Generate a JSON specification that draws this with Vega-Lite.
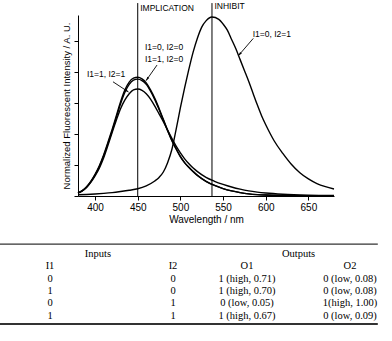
{
  "$schema": "https://vega.github.io/schema/vega-lite/v6.json",
  "width": 392,
  "height": 341,
  "autosize": {"type": "none"},
  "padding": 0,
  "background": "white",
  "config": {
    "font": "Liberation Sans",
    "view": {"stroke": null},
    "axis": {
      "domainColor": "black",
      "tickColor": "black",
      "labelColor": "black",
      "titleColor": "black",
      "labelFont": "Liberation Sans",
      "titleFont": "Liberation Sans",
      "titleFontWeight": "normal",
      "labelFontSize": 10,
      "titleFontSize": 10,
      "grid": false,
      "domainWidth": 1,
      "tickWidth": 1
    }
  },
  "datasets": {
    "curves": [
      {"s": "I1=0, I2=1", "wl": 380, "v": 0.08}, {"s": "I1=0, I2=1", "wl": 390, "v": 0.1}, {"s": "I1=0, I2=1", "wl": 400, "v": 0.13}, {"s": "I1=0, I2=1", "wl": 410, "v": 0.17}, {"s": "I1=0, I2=1", "wl": 420, "v": 0.22}, {"s": "I1=0, I2=1", "wl": 430, "v": 0.29}, {"s": "I1=0, I2=1", "wl": 440, "v": 0.37}, {"s": "I1=0, I2=1", "wl": 450, "v": 0.47}, {"s": "I1=0, I2=1", "wl": 460, "v": 0.66}, {"s": "I1=0, I2=1", "wl": 470, "v": 0.97}, {"s": "I1=0, I2=1", "wl": 475, "v": 1.2}, {"s": "I1=0, I2=1", "wl": 480, "v": 1.55}, {"s": "I1=0, I2=1", "wl": 485, "v": 2.15}, {"s": "I1=0, I2=1", "wl": 490, "v": 3.0}, {"s": "I1=0, I2=1", "wl": 495, "v": 4.3}, {"s": "I1=0, I2=1", "wl": 500, "v": 5.7}, {"s": "I1=0, I2=1", "wl": 505, "v": 7.0}, {"s": "I1=0, I2=1", "wl": 510, "v": 8.2}, {"s": "I1=0, I2=1", "wl": 515, "v": 9.3}, {"s": "I1=0, I2=1", "wl": 520, "v": 10.2}, {"s": "I1=0, I2=1", "wl": 525, "v": 10.9}, {"s": "I1=0, I2=1", "wl": 530, "v": 11.3}, {"s": "I1=0, I2=1", "wl": 537, "v": 11.55}, {"s": "I1=0, I2=1", "wl": 545, "v": 11.4}, {"s": "I1=0, I2=1", "wl": 550, "v": 11.1}, {"s": "I1=0, I2=1", "wl": 555, "v": 10.7}, {"s": "I1=0, I2=1", "wl": 560, "v": 10.1}, {"s": "I1=0, I2=1", "wl": 565, "v": 9.5}, {"s": "I1=0, I2=1", "wl": 570, "v": 8.8}, {"s": "I1=0, I2=1", "wl": 575, "v": 8.1}, {"s": "I1=0, I2=1", "wl": 580, "v": 7.4}, {"s": "I1=0, I2=1", "wl": 585, "v": 6.65}, {"s": "I1=0, I2=1", "wl": 590, "v": 5.9}, {"s": "I1=0, I2=1", "wl": 595, "v": 5.2}, {"s": "I1=0, I2=1", "wl": 600, "v": 4.6}, {"s": "I1=0, I2=1", "wl": 605, "v": 4.05}, {"s": "I1=0, I2=1", "wl": 610, "v": 3.55}, {"s": "I1=0, I2=1", "wl": 620, "v": 2.75}, {"s": "I1=0, I2=1", "wl": 630, "v": 2.05}, {"s": "I1=0, I2=1", "wl": 640, "v": 1.5}, {"s": "I1=0, I2=1", "wl": 650, "v": 1.1}, {"s": "I1=0, I2=1", "wl": 660, "v": 0.8}, {"s": "I1=0, I2=1", "wl": 670, "v": 0.6}, {"s": "I1=0, I2=1", "wl": 680, "v": 0.45},
      {"s": "I1=0, I2=0", "wl": 380, "v": 0.2}, {"s": "I1=0, I2=0", "wl": 385, "v": 0.35}, {"s": "I1=0, I2=0", "wl": 390, "v": 0.6}, {"s": "I1=0, I2=0", "wl": 395, "v": 0.95}, {"s": "I1=0, I2=0", "wl": 400, "v": 1.4}, {"s": "I1=0, I2=0", "wl": 405, "v": 1.95}, {"s": "I1=0, I2=0", "wl": 410, "v": 2.65}, {"s": "I1=0, I2=0", "wl": 415, "v": 3.45}, {"s": "I1=0, I2=0", "wl": 420, "v": 4.3}, {"s": "I1=0, I2=0", "wl": 425, "v": 5.2}, {"s": "I1=0, I2=0", "wl": 430, "v": 6.1}, {"s": "I1=0, I2=0", "wl": 435, "v": 6.85}, {"s": "I1=0, I2=0", "wl": 440, "v": 7.35}, {"s": "I1=0, I2=0", "wl": 445, "v": 7.6}, {"s": "I1=0, I2=0", "wl": 450, "v": 7.66}, {"s": "I1=0, I2=0", "wl": 455, "v": 7.56}, {"s": "I1=0, I2=0", "wl": 460, "v": 7.3}, {"s": "I1=0, I2=0", "wl": 465, "v": 6.85}, {"s": "I1=0, I2=0", "wl": 470, "v": 6.3}, {"s": "I1=0, I2=0", "wl": 475, "v": 5.65}, {"s": "I1=0, I2=0", "wl": 480, "v": 4.95}, {"s": "I1=0, I2=0", "wl": 485, "v": 4.25}, {"s": "I1=0, I2=0", "wl": 490, "v": 3.6}, {"s": "I1=0, I2=0", "wl": 495, "v": 3.05}, {"s": "I1=0, I2=0", "wl": 500, "v": 2.55}, {"s": "I1=0, I2=0", "wl": 505, "v": 2.15}, {"s": "I1=0, I2=0", "wl": 510, "v": 1.85}, {"s": "I1=0, I2=0", "wl": 515, "v": 1.58}, {"s": "I1=0, I2=0", "wl": 520, "v": 1.33}, {"s": "I1=0, I2=0", "wl": 530, "v": 0.95}, {"s": "I1=0, I2=0", "wl": 540, "v": 0.68}, {"s": "I1=0, I2=0", "wl": 550, "v": 0.48}, {"s": "I1=0, I2=0", "wl": 560, "v": 0.33}, {"s": "I1=0, I2=0", "wl": 570, "v": 0.22}, {"s": "I1=0, I2=0", "wl": 580, "v": 0.14}, {"s": "I1=0, I2=0", "wl": 590, "v": 0.09}, {"s": "I1=0, I2=0", "wl": 600, "v": 0.06}, {"s": "I1=0, I2=0", "wl": 620, "v": 0.03}, {"s": "I1=0, I2=0", "wl": 650, "v": 0.01}, {"s": "I1=0, I2=0", "wl": 680, "v": 0.0},
      {"s": "I1=1, I2=0", "wl": 380, "v": 0.19}, {"s": "I1=1, I2=0", "wl": 385, "v": 0.33}, {"s": "I1=1, I2=0", "wl": 390, "v": 0.57}, {"s": "I1=1, I2=0", "wl": 395, "v": 0.92}, {"s": "I1=1, I2=0", "wl": 400, "v": 1.36}, {"s": "I1=1, I2=0", "wl": 405, "v": 1.9}, {"s": "I1=1, I2=0", "wl": 410, "v": 2.58}, {"s": "I1=1, I2=0", "wl": 415, "v": 3.37}, {"s": "I1=1, I2=0", "wl": 420, "v": 4.2}, {"s": "I1=1, I2=0", "wl": 425, "v": 5.08}, {"s": "I1=1, I2=0", "wl": 430, "v": 5.97}, {"s": "I1=1, I2=0", "wl": 435, "v": 6.7}, {"s": "I1=1, I2=0", "wl": 440, "v": 7.2}, {"s": "I1=1, I2=0", "wl": 445, "v": 7.47}, {"s": "I1=1, I2=0", "wl": 450, "v": 7.54}, {"s": "I1=1, I2=0", "wl": 455, "v": 7.45}, {"s": "I1=1, I2=0", "wl": 460, "v": 7.2}, {"s": "I1=1, I2=0", "wl": 465, "v": 6.76}, {"s": "I1=1, I2=0", "wl": 470, "v": 6.22}, {"s": "I1=1, I2=0", "wl": 475, "v": 5.58}, {"s": "I1=1, I2=0", "wl": 480, "v": 4.9}, {"s": "I1=1, I2=0", "wl": 485, "v": 4.21}, {"s": "I1=1, I2=0", "wl": 490, "v": 3.57}, {"s": "I1=1, I2=0", "wl": 495, "v": 3.03}, {"s": "I1=1, I2=0", "wl": 500, "v": 2.53}, {"s": "I1=1, I2=0", "wl": 505, "v": 2.14}, {"s": "I1=1, I2=0", "wl": 510, "v": 1.84}, {"s": "I1=1, I2=0", "wl": 515, "v": 1.57}, {"s": "I1=1, I2=0", "wl": 520, "v": 1.32}, {"s": "I1=1, I2=0", "wl": 530, "v": 0.95}, {"s": "I1=1, I2=0", "wl": 540, "v": 0.68}, {"s": "I1=1, I2=0", "wl": 550, "v": 0.48}, {"s": "I1=1, I2=0", "wl": 560, "v": 0.33}, {"s": "I1=1, I2=0", "wl": 570, "v": 0.22}, {"s": "I1=1, I2=0", "wl": 580, "v": 0.14}, {"s": "I1=1, I2=0", "wl": 590, "v": 0.09}, {"s": "I1=1, I2=0", "wl": 600, "v": 0.06}, {"s": "I1=1, I2=0", "wl": 620, "v": 0.03}, {"s": "I1=1, I2=0", "wl": 650, "v": 0.01}, {"s": "I1=1, I2=0", "wl": 680, "v": 0.0},
      {"s": "I1=1, I2=1", "wl": 380, "v": 0.2}, {"s": "I1=1, I2=1", "wl": 385, "v": 0.33}, {"s": "I1=1, I2=1", "wl": 390, "v": 0.55}, {"s": "I1=1, I2=1", "wl": 395, "v": 0.88}, {"s": "I1=1, I2=1", "wl": 400, "v": 1.3}, {"s": "I1=1, I2=1", "wl": 405, "v": 1.8}, {"s": "I1=1, I2=1", "wl": 410, "v": 2.45}, {"s": "I1=1, I2=1", "wl": 415, "v": 3.25}, {"s": "I1=1, I2=1", "wl": 420, "v": 4.1}, {"s": "I1=1, I2=1", "wl": 425, "v": 4.9}, {"s": "I1=1, I2=1", "wl": 430, "v": 5.65}, {"s": "I1=1, I2=1", "wl": 435, "v": 6.2}, {"s": "I1=1, I2=1", "wl": 440, "v": 6.6}, {"s": "I1=1, I2=1", "wl": 445, "v": 6.85}, {"s": "I1=1, I2=1", "wl": 450, "v": 6.9}, {"s": "I1=1, I2=1", "wl": 455, "v": 6.82}, {"s": "I1=1, I2=1", "wl": 460, "v": 6.6}, {"s": "I1=1, I2=1", "wl": 465, "v": 6.25}, {"s": "I1=1, I2=1", "wl": 470, "v": 5.8}, {"s": "I1=1, I2=1", "wl": 475, "v": 5.3}, {"s": "I1=1, I2=1", "wl": 480, "v": 4.8}, {"s": "I1=1, I2=1", "wl": 485, "v": 4.25}, {"s": "I1=1, I2=1", "wl": 490, "v": 3.72}, {"s": "I1=1, I2=1", "wl": 495, "v": 3.22}, {"s": "I1=1, I2=1", "wl": 500, "v": 2.78}, {"s": "I1=1, I2=1", "wl": 505, "v": 2.4}, {"s": "I1=1, I2=1", "wl": 510, "v": 2.08}, {"s": "I1=1, I2=1", "wl": 515, "v": 1.8}, {"s": "I1=1, I2=1", "wl": 520, "v": 1.57}, {"s": "I1=1, I2=1", "wl": 530, "v": 1.2}, {"s": "I1=1, I2=1", "wl": 540, "v": 0.95}, {"s": "I1=1, I2=1", "wl": 550, "v": 0.75}, {"s": "I1=1, I2=1", "wl": 560, "v": 0.58}, {"s": "I1=1, I2=1", "wl": 570, "v": 0.44}, {"s": "I1=1, I2=1", "wl": 580, "v": 0.33}, {"s": "I1=1, I2=1", "wl": 590, "v": 0.25}, {"s": "I1=1, I2=1", "wl": 600, "v": 0.19}, {"s": "I1=1, I2=1", "wl": 620, "v": 0.11}, {"s": "I1=1, I2=1", "wl": 650, "v": 0.05}, {"s": "I1=1, I2=1", "wl": 680, "v": 0.03}
    ],
    "vlines": [
      {"wl": 450, "lo": 0, "hi": 12.45, "name": "IMPLICATION", "ly": 12.1},
      {"wl": 537, "lo": 0, "hi": 12.45, "name": "INHIBIT", "ly": 12.29}
    ],
    "labels": [
      {"wl": 458.5, "v": 9.63, "t": "I1=0, I2=0"},
      {"wl": 458.5, "v": 8.84, "t": "I1=1, I2=0"},
      {"wl": 390.5, "v": 7.85, "t": "I1=1, I2=1"},
      {"wl": 584.7, "v": 10.43, "t": "I1=0, I2=1"}
    ],
    "arrows": [
      {"id": 1, "wl": 472.6, "v": 8.45, "wl2": 459.7, "v2": 7.44},
      {"id": 2, "wl": 421.0, "v": 7.37, "wl2": 439.2, "v2": 6.71},
      {"id": 3, "wl": 585.4, "v": 10.17, "wl2": 567.9, "v2": 9.05}
    ],
    "cells": [
      {"c": 0.39, "r": 0, "t": "Inputs"}, {"c": 2.5, "r": 0, "t": "Outputs"},
      {"c": 0, "r": 1, "t": "I1"}, {"c": 1, "r": 1, "t": "I2"}, {"c": 2, "r": 1, "t": "O1"}, {"c": 3, "r": 1, "t": "O2"},
      {"c": 0, "r": 2, "t": "0"}, {"c": 1, "r": 2, "t": "0"}, {"c": 2, "r": 2, "t": "1 (high, 0.71)"}, {"c": 3, "r": 2, "t": "0 (low, 0.08)"},
      {"c": 0, "r": 3, "t": "1"}, {"c": 1, "r": 3, "t": "0"}, {"c": 2, "r": 3, "t": "1 (high, 0.70)"}, {"c": 3, "r": 3, "t": "0 (low, 0.08)"},
      {"c": 0, "r": 4, "t": "0"}, {"c": 1, "r": 4, "t": "1"}, {"c": 2, "r": 4, "t": "0 (low, 0.05)"}, {"c": 3, "r": 4, "t": "1(high, 1.00)"},
      {"c": 0, "r": 5, "t": "1"}, {"c": 1, "r": 5, "t": "1"}, {"c": 2, "r": 5, "t": "1 (high, 0.67)"}, {"c": 3, "r": 5, "t": "0 (low, 0.09)"}
    ],
    "hlines": [
      {"k": "top", "r": -0.81, "c": -0.41, "c2": 3.27},
      {"k": "bottom", "r": 5.69, "c": -0.41, "c2": 3.27}
    ]
  },
  "layer": [
    {
      "layer": [
        {
          "data": {"name": "curves"},
          "mark": {"type": "line", "color": "black", "strokeWidth": 1.4, "interpolate": "monotone"},
          "encoding": {
            "x": {
              "field": "wl", "type": "quantitative",
              "scale": {"domain": [380, 680], "range": [78, 334], "nice": false, "zero": false},
              "axis": {
                "values": [400, 425, 450, 475, 500, 525, 550, 575, 600, 625, 650, 675],
                "offset": -145,
                "labelExpr": "datum.value % 50 === 0 ? datum.label : ''",
                "tickSize": {"condition": {"test": "datum.value % 50 === 0", "value": 4}, "value": 2},
                "labelPadding": 2,
                "labelFlush": false,
                "labelOverlap": false,
                "title": "Wavelength / nm",
                "titlePadding": 2
              }
            },
            "y": {
              "field": "v", "type": "quantitative",
              "scale": {"domain": [0, 11.68], "range": [196, 15], "nice": false, "zero": false},
              "axis": {
                "values": [0, 1, 2, 3, 4, 5, 6, 7, 8, 9, 10, 11],
                "offset": -78,
                "labels": false,
                "tickSize": {"condition": {"test": "datum.value % 2 === 0", "value": 4}, "value": 2},
                "title": "Normalized Fluorescent Intensity / A. U.",
                "titleFontSize": 9.5,
                "titlePadding": 2
              }
            },
            "detail": {"field": "s"}
          }
        },
        {
          "data": {"name": "vlines"},
          "mark": {"type": "rule", "color": "black", "strokeWidth": 1},
          "encoding": {
            "x": {"field": "wl", "type": "quantitative"},
            "y": {"field": "lo", "type": "quantitative"},
            "y2": {"field": "hi"}
          }
        },
        {
          "data": {"name": "vlines"},
          "mark": {"type": "text", "align": "left", "baseline": "middle", "dx": 2.5, "fontSize": 8.5, "font": "Liberation Sans", "color": "black"},
          "encoding": {
            "x": {"field": "wl", "type": "quantitative"},
            "y": {"field": "ly", "type": "quantitative"},
            "text": {"field": "name"}
          }
        },
        {
          "data": {"name": "labels"},
          "mark": {"type": "text", "align": "left", "baseline": "middle", "fontSize": 8.5, "font": "Liberation Sans", "color": "black"},
          "encoding": {
            "x": {"field": "wl", "type": "quantitative"},
            "y": {"field": "v", "type": "quantitative"},
            "text": {"field": "t"}
          }
        },
        {
          "data": {"name": "arrows"},
          "mark": {"type": "rule", "color": "black", "strokeWidth": 0.9},
          "encoding": {
            "x": {"field": "wl", "type": "quantitative"},
            "y": {"field": "v", "type": "quantitative"},
            "x2": {"field": "wl2"},
            "y2": {"field": "v2"}
          }
        },
        {
          "data": {"name": "arrows"},
          "transform": [{"filter": "datum.id === 1"}],
          "mark": {"type": "point", "shape": "M0,0L0.6,2L-0.6,2Z", "size": 16, "filled": true, "color": "black", "opacity": 1, "angle": 215},
          "encoding": {
            "x": {"field": "wl2", "type": "quantitative"},
            "y": {"field": "v2", "type": "quantitative"}
          }
        },
        {
          "data": {"name": "arrows"},
          "transform": [{"filter": "datum.id === 2"}],
          "mark": {"type": "point", "shape": "M0,0L0.6,2L-0.6,2Z", "size": 16, "filled": true, "color": "black", "opacity": 1, "angle": 124},
          "encoding": {
            "x": {"field": "wl2", "type": "quantitative"},
            "y": {"field": "v2", "type": "quantitative"}
          }
        },
        {
          "data": {"name": "arrows"},
          "transform": [{"filter": "datum.id === 3"}],
          "mark": {"type": "point", "shape": "M0,0L0.6,2L-0.6,2Z", "size": 16, "filled": true, "color": "black", "opacity": 1, "angle": 221},
          "encoding": {
            "x": {"field": "wl2", "type": "quantitative"},
            "y": {"field": "v2", "type": "quantitative"}
          }
        }
      ]
    },
    {
      "layer": [
        {
          "data": {"name": "cells"},
          "mark": {"type": "text", "align": "center", "baseline": "middle", "font": "Liberation Serif", "fontSize": 10.5, "color": "black"},
          "encoding": {
            "x": {"field": "c", "type": "quantitative", "scale": {"domain": [0, 1, 2, 3], "range": [50, 173, 247, 350], "nice": false, "zero": false}, "axis": null},
            "y": {"field": "r", "type": "quantitative", "scale": {"domain": [0, 5], "range": [254, 315.5], "nice": false, "zero": false}, "axis": null},
            "text": {"field": "t"}
          }
        },
        {
          "data": {"name": "hlines"},
          "transform": [{"filter": "datum.k === 'top'"}],
          "mark": {"type": "rule", "color": "#333", "strokeWidth": 1.2},
          "encoding": {
            "x": {"field": "c", "type": "quantitative"},
            "x2": {"field": "c2"},
            "y": {"field": "r", "type": "quantitative"}
          }
        },
        {
          "data": {"name": "hlines"},
          "transform": [{"filter": "datum.k === 'bottom'"}],
          "mark": {"type": "rule", "color": "#333", "strokeWidth": 1.8},
          "encoding": {
            "x": {"field": "c", "type": "quantitative"},
            "x2": {"field": "c2"},
            "y": {"field": "r", "type": "quantitative"}
          }
        }
      ]
    }
  ],
  "resolve": {"scale": {"x": "independent", "y": "independent"}}
}
